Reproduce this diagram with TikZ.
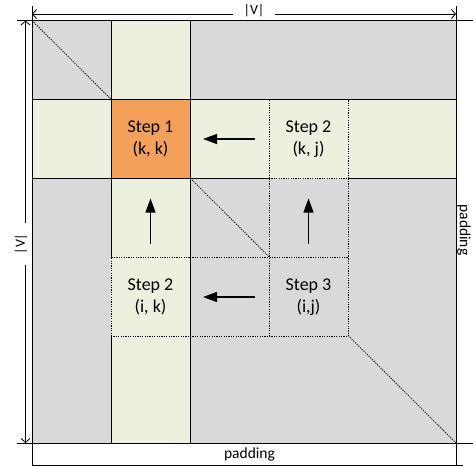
\documentclass[tikz,border=0pt]{standalone}
\usepackage{fontspec}
\setmainfont{Carlito}
\usetikzlibrary{arrows.meta}

\definecolor{gridgrey}{HTML}{D9D9D9}
\definecolor{rowgreen}{HTML}{EBF1DE}
\definecolor{steporange}{HTML}{F5A05A}

\begin{document}
\begin{tikzpicture}[
            x = 1pt, y = -1pt, % one unit per pixel, y runs downwards
            line width = 0.8pt,
            stepcell/.style = {rectangle, minimum size = 79pt, inner sep = 0pt,
              outer sep = 0pt, align = center,
              font = \fontsize{18}{22.5}\selectfont},
            dotcell/.style = {stepcell, draw, dash pattern = on 1.2pt off 1.2pt,
              fill = rowgreen},
            dots/.style = {dash pattern = on 1.2pt off 1.2pt},
            flow/.style = {-{Triangle[length = 14pt, width = 10pt]},
              line width = 1.2pt}, % arrows between the steps
            dim/.style = {{Straight Barb[length = 4pt, width = 9pt]}-{Straight Barb[length = 4pt, width = 9pt]}},
            dimlbl/.style = {fill = white, inner xsep = 11pt, inner ysep = 0pt,
              font = \fontsize{14}{16}\selectfont},
            padlbl/.style = {inner sep = 0pt, font = \fontsize{15.5}{17}\selectfont}
            ]
            \useasboundingbox (0,0) rectangle (473,466);

            % size of the matrix
            \coordinate (t1) at (32,14);
            \coordinate (t2) at (456,14);
            \coordinate (l1) at (25.5,20.5);
            \coordinate (l2) at (25.5,443);
            \draw[dim] (t1) -- (t2);
            \draw[dim] (l1) -- (l2);
            \node[dimlbl] (vtop) at (254,11) {|V|};
            \node[dimlbl, rotate = 90] (vleft) at (21,244) {|V|};

            % matrix, row k and column k
            \fill[gridgrey] (32,20.5) rectangle (456,443);
            \draw[dots] (32,20.5) -- (456,443);
            \fill[rowgreen] (32,99.5) rectangle (456,178.5);
            \fill[rowgreen] (111,20.5) rectangle (190,443);
            \draw (32,99.5) -- (456,99.5);
            \draw (32,178.5) -- (456,178.5);
            \draw (111,20.5) -- (111,443);
            \draw (190,20.5) -- (190,443);

            % frame and padding
            \draw (17,20.5) -- (473,20.5);
            \draw (17,443) -- (473,443);
            \draw (32,6) -- (32,465);
            \draw (456,6) -- (456,466);
            \draw (32,465) -- (463,465);
            \node[padlbl] (padb) at (249.5,454.5) {padding};
            \node[padlbl, rotate = -90] (padr) at (464,230) {padding};

            % blocks
            \node[stepcell, draw, fill = steporange] (1) at (150.5,139) {Step 1\\(k, k)};
            \node[dotcell] (2) at (308.5,139) {Step 2\\(k, j)};
            \node[dotcell] (3) at (150.5,297) {Step 2\\(i, k)};
            \node[dotcell, fill = gridgrey] (4) at (308.5,297) {Step 3\\(i,j)};
            \draw[dots] (3.north east) -- (4.north west);
            \draw[dots] (3.south east) -- (4.south west);
            \draw[dots] (2.south west) -- (4.north west);
            \draw[dots] (2.south east) -- (4.north east);

            \draw[flow, shorten <= 14pt, shorten >= 13pt] (2) -- (1);
            \draw[flow, shorten <= 14pt, shorten >= 13pt] (4) -- (3);
            \draw[flow, shorten <= 14pt, shorten >= 20pt] (3) -- (1);
            \draw[flow, shorten <= 14pt, shorten >= 20pt] (4) -- (2);
        \end{tikzpicture}
\end{document}
